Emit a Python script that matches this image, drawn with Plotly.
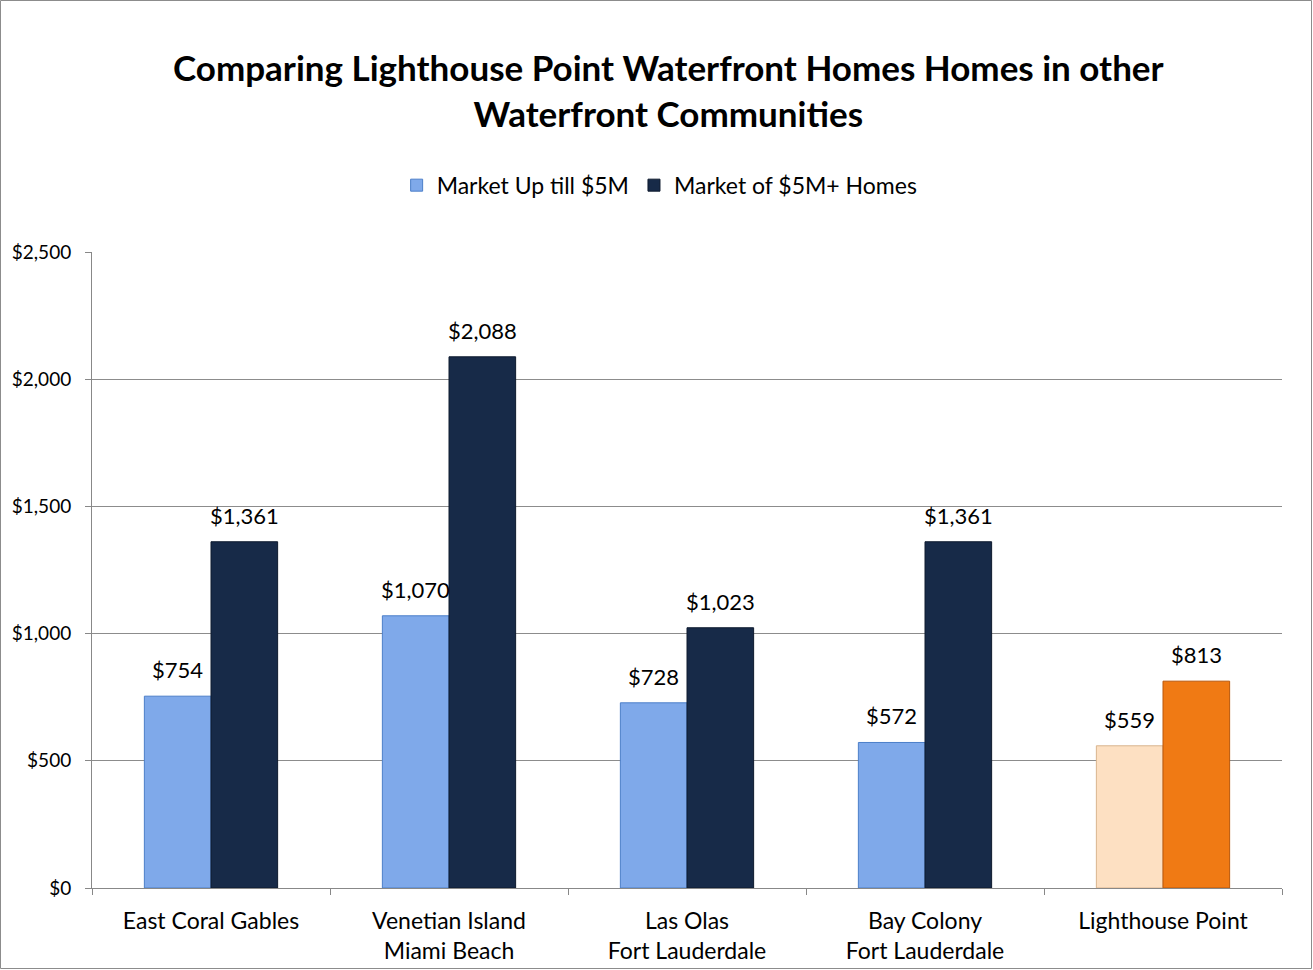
import plotly.graph_objects as go

categories = ["East Coral Gables", "Venetian Island<br>Miami Beach", "Las Olas<br>Fort Lauderdale",
              "Bay Colony<br>Fort Lauderdale", "Lighthouse Point"]
up_to_5m = [754, 1070, 728, 572, 559]
over_5m = [1361, 2088, 1023, 1361, 813]
series_names = ["Market Up till $5M", "Market of $5M+ Homes"]
tick_vals = [0, 500, 1000, 1500, 2000, 2500]
tick_text = ["$0", "$500", "$1,000", "$1,500", "$2,000", "$2,500"]

light_colors = ["#7fa9ea"] * 4 + ["#fde0c2"]
light_lines = ["#4c7fc9"] * 4 + ["#d9b48e"]
dark_colors = ["#172a48"] * 4 + ["#f07a14"]
dark_lines = ["#0e1a2e"] * 4 + ["#b9570a"]

FONT = "Lato, 'Open Sans', sans-serif"
BARGAP = 0.44

fig = go.Figure()
fig.add_trace(go.Bar(
    x=categories, y=up_to_5m, name=series_names[0],
    marker=dict(color=light_colors, line=dict(color=light_lines, width=1)),
))
fig.add_trace(go.Bar(
    x=categories, y=over_5m, name=series_names[1],
    marker=dict(color=dark_colors, line=dict(color=dark_lines, width=1)),
))

# data labels as annotations (category index +/- half bar offset)
off = (1 - BARGAP) / 4
for i in range(len(categories)):
    for val, dx in ((up_to_5m[i], -off), (over_5m[i], off)):
        fig.add_annotation(x=i + dx, y=val, xref="x", yref="y",
                           text=f"${val:,}", showarrow=False,
                           yanchor="bottom", yshift=11,
                           font=dict(size=22, color="black", family=FONT))

W, H = 1313, 970
ml, mr, mt, mb = 92, 31, 252, 82
fig.update_layout(
    width=W, height=H,
    margin=dict(l=ml, r=mr, t=mt, b=mb, autoexpand=False),
    paper_bgcolor="white", plot_bgcolor="white",
    font=dict(family=FONT, color="black"),
    barmode="group", bargap=BARGAP, bargroupgap=0,
    title=dict(
        text="<b>Comparing Lighthouse Point Waterfront Homes Homes in other<br>Waterfront Communities</b>",
        x=0.509, xanchor="center", y=0.916, yanchor="middle",
        font=dict(size=35, family=FONT, color="black"),
    ),
    legend=dict(
        orientation="h", x=0.477, xanchor="center", y=1.105, yanchor="middle",
        font=dict(size=23, family=FONT), itemwidth=30, traceorder="normal",
    ),
    showlegend=True,
)
fig.update_xaxes(
    showgrid=False, showline=True, linecolor="#888888", linewidth=1,
    ticks="outside", tickson="boundaries", ticklen=6, tickcolor="#888888",
    tickfont=dict(size=23, family=FONT), ticklabelstandoff=12, fixedrange=True,
    automargin=False,
)
fig.update_yaxes(
    range=[0, 2500], tickvals=tick_vals, ticktext=tick_text,
    showgrid=True, gridcolor="#8c8c8c", gridwidth=1,
    showline=True, linecolor="#888888", linewidth=1,
    ticks="outside", ticklen=6, tickcolor="#888888",
    tickfont=dict(size=19, family=FONT), ticklabelstandoff=10, zeroline=False,
    automargin=False,
)
# outer chart border
fig.add_shape(type="rect", xref="paper", yref="paper",
              x0=-(ml - 0.5) / (W - ml - mr), x1=1 + (mr - 1.5) / (W - ml - mr),
              y0=-(mb - 1.5) / (H - mt - mb), y1=1 + (mt - 0.5) / (H - mt - mb),
              line=dict(color="#8c8c8c", width=1), layer="below")

fig.write_html("out.html")
